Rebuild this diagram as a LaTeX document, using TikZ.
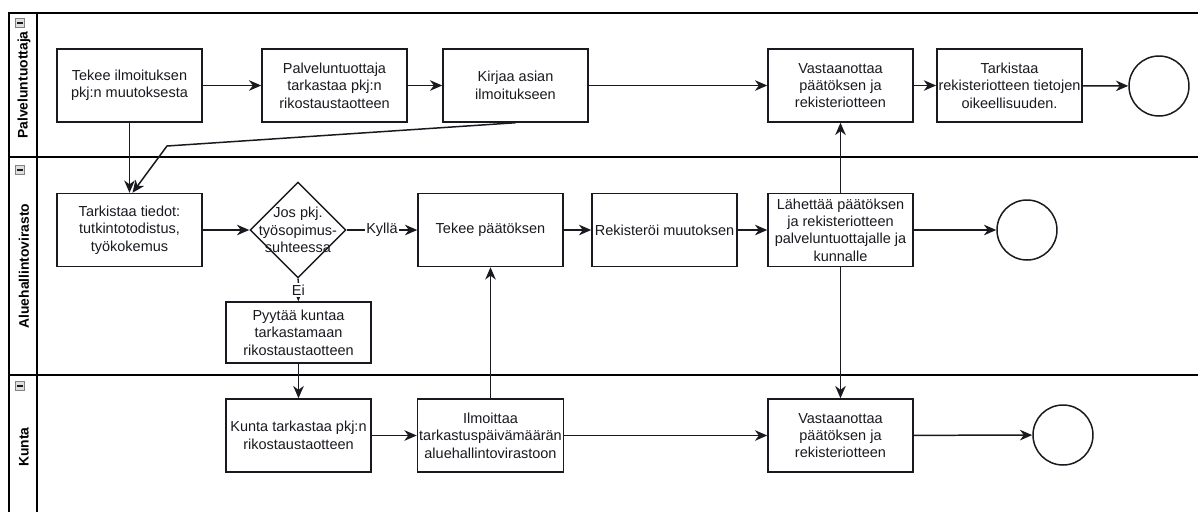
\documentclass[tikz,border=0pt]{standalone}
\usepackage{fontspec}
\setmainfont{Liberation Sans}
\usetikzlibrary{shapes.geometric, arrows.meta, positioning}
\definecolor{inkgray}{rgb}{0.1,0.1,0.12}
\tikzset{basic/.style={draw=inkgray,line width=0.85pt,align=center,text=inkgray,font=\fontsize{8.25}{9.9}\selectfont}}
\tikzset{task/.style={basic,rectangle,minimum width=2.9cm,minimum height=1.46cm,inner sep=1pt}}
\tikzset{stop/.style={basic,circle,minimum size=1.2cm,inner sep=0pt}}
\tikzset{choice/.style={basic,diamond,minimum width=1.92cm,minimum height=1.92cm,inner sep=0pt}}
\tikzset{lane/.style={draw=black,line width=0.95pt}}
\tikzset{lanetitle/.style={rotate=90,font=\fontsize{7.9}{9.5}\selectfont\bfseries}}
\tikzset{laneicon/.style={draw=gray,fill=gray!25,line width=0.4pt,minimum size=0.17cm,inner sep=0pt}}
\tikzset{flow/.style={draw=inkgray,line width=0.85pt,-{Stealth[length=7pt,width=6pt,inset=2.2pt]}}}
\tikzset{edgelabel/.style={fill=white,inner sep=1pt,text=inkgray,font=\fontsize{8.25}{9.9}\selectfont}}

\begin{document}
\begin{tikzpicture}[x=0.02cm,y=-0.02cm]
\useasboundingbox (0,0) rectangle (1198,512);

% Define lanes
\path[lane] (1198,13) -- (9,13) -- (9,512);
\path[lane] (37,13) -- (37,512);
\path[lane] (9,157) -- (1198,157);
\path[lane] (9,375) -- (1198,375);

\node[lanetitle] (t1) at (24,85) {Palveluntuottaja};
\node[lanetitle] (t2) at (24,266) {Aluehallintovirasto};
\node[lanetitle] (t3) at (24,447) {Kunta};

\node[laneicon] (m1) at (20,23) {};
\node[laneicon] (m2) at (20,170) {};
\node[laneicon] (m3) at (20,386) {};
\draw[inkgray,line width=0.8pt] ([xshift=0.04cm]m1.west) -- ([xshift=-0.04cm]m1.east);
\draw[inkgray,line width=0.8pt] ([xshift=0.04cm]m2.west) -- ([xshift=-0.04cm]m2.east);
\draw[inkgray,line width=0.8pt] ([xshift=0.04cm]m3.west) -- ([xshift=-0.04cm]m3.east);

% Define tasks of Palveluntuottaja
\node[task] (a1) at (129.5,85.5) {Tekee ilmoituksen\\pkj:n muutoksesta};
\node[task] (a2) at (334.5,85.5) {Palveluntuottaja\\tarkastaa pkj:n\\rikostaustaotteen};
\node[task] (a3) at (515.5,85.5) {Kirjaa asian\\ilmoitukseen};
\node[task] (a4) at (840.5,85.5) {Vastaanottaa\\päätöksen ja\\rekisteriotteen};
\node[task] (a5) at (1009.5,85.5) {Tarkistaa\\rekisteriotteen tietojen\\oikeellisuuden.};
\node[stop] (e1) at (1159,86) {};

% Define tasks of Aluehallintovirasto
\node[task] (b1) at (129.5,230) {Tarkistaa tiedot:\\tutkintotodistus,\\työkokemus};
\node[choice,label={[basic,draw=none,align=center]center:Jos pkj.\\työsopimus-\\suhteessa}] (d) at (298,230) {};
\node[task] (b2) at (490.5,230) {Tekee päätöksen};
\node[task] (b3) at (664.5,230) {Rekisteröi muutoksen};
\node[task] (b4) at (840.5,230) {Lähettää päätöksen\\ja rekisteriotteen\\palveluntuottajalle ja\\kunnalle};
\node[stop] (e2) at (1027,230) {};
\node[task,minimum height=1.22cm] (b5) at (298.5,332.5) {Pyytää kuntaa\\tarkastamaan\\rikostaustaotteen};

% Define tasks of Kunta
\node[task] (c1) at (298.5,435.5) {Kunta tarkastaa pkj:n\\rikostaustaotteen};
\node[task] (c2) at (490.5,435.5) {Ilmoittaa\\tarkastuspäivämäärän\\aluehallintovirastoon};
\node[task] (c3) at (840.5,435.5) {Vastaanottaa\\päätöksen ja\\rekisteriotteen};
\node[stop] (e3) at (1063,435) {};

% Define paths
\coordinate (bend) at (167,146);

\path[flow] (a1) -- (a2);
\path[flow] (a2) -- (a3);
\path[flow] (a3) -- (a4);
\path[flow] (a4) -- (a5);
\path[flow] (a5) -- (e1);
\path[flow] (a1) -- (b1);
\path[flow] (a3.south) -- (bend) -- ([xshift=0.06cm]b1.north);

\path[flow] (b1) -- (d);
\path[flow] (d) -- node[edgelabel] {Kyllä} (b2);
\path[flow] (d) -- node[edgelabel] {Ei} (b5);
\path[flow] (b2) -- (b3);
\path[flow] (b3) -- (b4);
\path[flow] (b4) -- (e2);
\path[flow] (b4) -- (a4);
\path[flow] (b4) -- (c3);
\path[flow] (b5) -- (c1);

\path[flow] (c1) -- (c2);
\path[flow] (c2) -- (b2);
\path[flow] (c2) -- (c3);
\path[flow] (c3) -- (e3);
\end{tikzpicture}
\end{document}
